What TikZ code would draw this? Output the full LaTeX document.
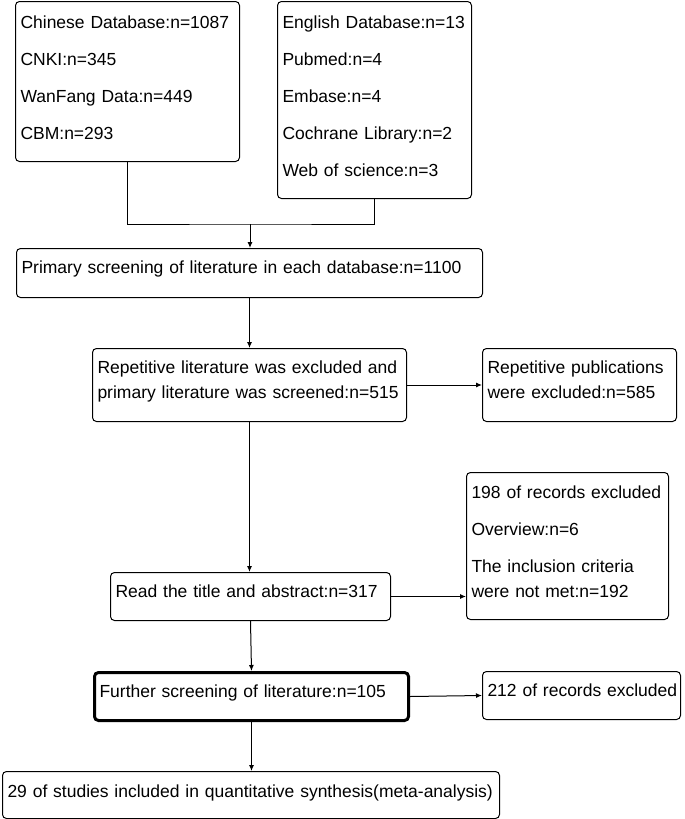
\documentclass[tikz,border=0pt]{standalone}
\usepackage{fontspec}
\setmainfont{Liberation Sans}
\usetikzlibrary{arrows.meta}
\usetikzlibrary{positioning}

\tikzset{
    box/.style={draw, rounded corners=4pt, line width=1pt, anchor=north west,
        align=left, inner xsep=5pt, inner ysep=0pt, text height=25pt,
        font=\fontsize{17.5}{25}\selectfont},
    arr/.style={-{Latex[length=6pt,width=5pt]}, line width=1pt},
}

\begin{document}
\begin{tikzpicture}[x=1pt, y=-1pt]
    \useasboundingbox (0,0) rectangle (685,819);

    % Datenbanken
    \node[box, text width=214pt, text height=27pt, text depth=133pt] (chn) at (15,1)
        {Chinese Database:n=1087\\[12pt]CNKI:n=345\\[12pt]WanFang Data:n=449\\[12pt]CBM:n=293};
    \node[box, text width=184pt, text height=27pt, text depth=170pt] (eng) at (277,1)
        {English Database:n=13\\[12pt]Pubmed:n=4\\[12pt]Embase:n=4\\[12pt]Cochrane Library:n=2\\[12pt]Web of science:n=3};

    % Zusammenfuehrung
    \coordinate (merge) at (250,224);
    \draw[line width=1pt] (chn.south) |- (merge) -| (eng.south);

    % Hauptspalte
    \node[box, text width=456pt, text depth=24pt] (prim) at (16,248)
        {Primary screening of literature in each database:n=1100};
    \node[box, text width=304pt, text depth=48pt] (rep) at (92,348)
        {Repetitive literature was excluded and\\primary literature was screened:n=515};
    \node[box, text width=270pt, text depth=23pt] (read) at (110,572)
        {Read the title and abstract:n=317};
    \node[box, line width=3pt, text width=304pt, text depth=23pt] (fur) at (93,671)
        {Further screening of literature:n=105};
    \node[box, text width=487pt, text height=26pt, text depth=21pt] (syn) at (2,771)
        {\mbox{29 of studies included in quantitative synthesis(meta-analysis)}};

    % Ausgeschlossen
    \node[box, text width=184pt, text depth=48pt] (repx) at (482,348)
        {Repetitive publications\\were excluded:n=585};
    \node[box, text width=192pt, text height=26pt, text depth=121pt] (recs) at (466,472)
        {\mbox{198 of records excluded}\\[12pt]Overview:n=6\\[12pt]The inclusion criteria\\were not met:n=192};
    \node[box, text width=188pt, text depth=23pt] (rec2) at (482,671)
        {\mbox{212 of records excluded}};

    % Pfeile
    \draw[arr] (merge) -- (merge |- prim.north);
    \draw[arr] (prim.south) -- (rep.north);
    \draw[arr] (rep.south) -- (read.north -| rep.south);
    \draw[arr] (read.south) -- (fur.north);
    \draw[arr] (fur.south) -- (syn.north -| fur.south);
    \draw[arr] (rep.east) -- (repx.west);
    \draw[arr] (read.east) -- (read.east -| recs.west);
    \draw[arr] (fur.east) -- (rec2.west);
\end{tikzpicture}
\end{document}
